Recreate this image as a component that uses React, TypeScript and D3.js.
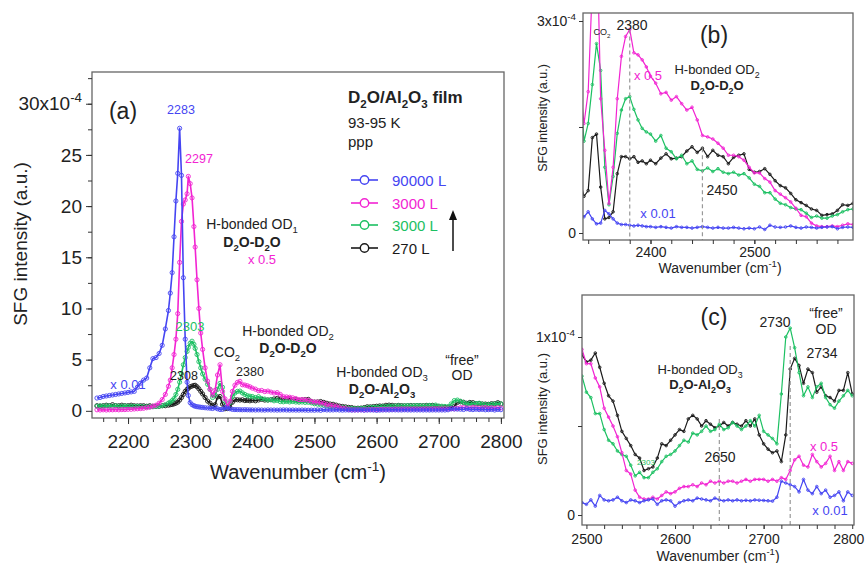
import * as d3 from 'd3';
import React, { useRef, useEffect } from 'react';

const FONT = 'Arial, "Liberation Sans", Helvetica, sans-serif';

// wavenumber grid (cm-1), finer around the OD1 peaks
const wavenumber = [
  2150, 2155, 2160, 2165, 2170, 2175, 2180, 2185, 2190, 2195, 2200, 2205, 2210, 2215, 2220, 2225, 2230, 2235, 2240, 2245, 2250, 2255, 2260, 2265,
  2268, 2271, 2274, 2277, 2280, 2283, 2286, 2289, 2292, 2295, 2297, 2300, 2303, 2306, 2308, 2311, 2314, 2317, 2320, 2324, 2328, 2332,
  2336, 2340, 2344, 2348, 2352, 2356, 2360, 2364, 2368, 2372, 2376, 2380, 2384, 2388, 2392, 2396, 2400,
  2405, 2410, 2415, 2420, 2425, 2430, 2435, 2440, 2445, 2450, 2455, 2460, 2465, 2470, 2475, 2480, 2485, 2490, 2495, 2500,
  2505, 2510, 2515, 2520, 2525, 2530, 2535, 2540, 2545, 2550, 2555, 2560, 2565, 2570, 2575, 2580, 2585, 2590, 2595, 2600,
  2605, 2610, 2615, 2620, 2625, 2630, 2635, 2640, 2645, 2650, 2655, 2660, 2665, 2670, 2675, 2680, 2685, 2690, 2695, 2700,
  2705, 2710, 2715, 2720, 2725, 2730, 2735, 2740, 2745, 2750, 2755, 2760, 2765, 2770, 2775, 2780, 2785, 2790, 2795, 2800,
];

// SFG intensity, units of 1e-4
// 90000 L (x 0.01)
const sfg90000 = [
  1.25, 1.3, 1.4, 1.45, 1.5, 1.55, 1.6, 1.65, 1.7, 1.75, 1.8, 1.85, 1.9, 2.3, 2.7, 3.0, 3.2, 4.2, 5.1, 5.2, 5.6, 6.4, 8.0, 9.8,
  11.5, 13.5, 17.0, 20.5, 23.2, 27.6, 23.0, 13.0, 7.0, 2.8, 1.5, 0.8, 0.6, 0.5, 0.45, 0.4, 0.38, 0.35, 0.33, 0.3, 0.28, 0.26,
  0.23, 0.3, 0.2, 0.13, 0.14, 0.32, 0.27, 0.2, 0.14, 0.12, 0.12, 0.11, 0.1, 0.11, 0.1, 0.09, 0.09,
  0.08, 0.09, 0.08, 0.07, 0.09, 0.08, 0.08, 0.07, 0.08, 0.09, 0.08, 0.07, 0.08, 0.07, 0.07, 0.08, 0.07, 0.06, 0.07, 0.06,
  0.085, 0.05, 0.11, 0.085, 0.08, 0.085, 0.1, 0.08, 0.07, 0.085, 0.08, 0.07, 0.08, 0.085, 0.09, 0.06, 0.08, 0.085, 0.08, 0.05,
  0.07, 0.08, 0.085, 0.08, 0.095, 0.09, 0.085, 0.08, 0.095, 0.085, 0.08, 0.085, 0.08, 0.085, 0.08, 0.083, 0.08, 0.085, 0.083, 0.082,
  0.08, 0.078, 0.1, 0.19, 0.18, 0.17, 0.16, 0.13, 0.2, 0.14, 0.12, 0.16, 0.12, 0.14, 0.1, 0.11, 0.13, 0.08, 0.13, 0.11,
];

// 3000 L (x 0.5)
const sfg3000a = [
  0.1, 0.08, 0.1, 0.08, 0.1, 0.1, 0.12, 0.1, 0.12, 0.12, 0.15, 0.15, 0.18, 0.2, 0.22, 0.25, 0.3, 0.35, 0.45, 0.55, 0.75, 1.1, 1.6, 2.4,
  3.0, 4.2, 5.5, 7.0, 9.5, 14.5, 18.5, 20.2, 20.6, 21.2, 22.9, 22.2, 20.8, 18.0, 16.0, 12.8, 10.0, 7.6, 6.0, 4.2, 2.9, 2.1,
  1.55, 2.0, 3.5, 4.5, 1.9, 1.17, 0.42, 0.93, 1.9, 2.5, 2.78, 2.88, 2.55, 2.52, 2.45, 2.35, 2.22,
  2.12, 1.97, 1.99, 1.88, 1.93, 1.83, 1.74, 1.78, 1.6, 1.38, 1.36, 1.33, 1.27, 1.2, 1.1, 1.1, 1.08, 1.03, 0.93, 0.85,
  0.85, 0.77, 0.72, 0.6, 0.55, 0.5, 0.44, 0.35, 0.25, 0.23, 0.14, 0.1, 0.09, 0.09, 0.1, 0.09, 0.11, 0.13, 0.12, 0.13,
  0.15, 0.16, 0.16, 0.17, 0.16, 0.18, 0.17, 0.19, 0.18, 0.19, 0.18, 0.19, 0.19, 0.18, 0.19, 0.2, 0.19, 0.2, 0.2, 0.2,
  0.19, 0.2, 0.19, 0.21, 0.2, 0.25, 0.31, 0.33, 0.28, 0.27, 0.34, 0.3, 0.27, 0.29, 0.33, 0.25, 0.3, 0.25, 0.3, 0.29,
];

// 3000 L
const sfg3000b = [
  0.45, 0.5, 0.45, 0.5, 0.48, 0.45, 0.5, 0.45, 0.45, 0.48, 0.45, 0.45, 0.43, 0.45, 0.42, 0.4, 0.4, 0.4, 0.4, 0.42, 0.45, 0.5, 0.6, 0.75,
  0.85, 1.0, 1.2, 1.6, 2.1, 2.8, 3.6, 4.5, 5.2, 5.8, 6.2, 6.6, 6.8, 6.5, 6.1, 5.5, 4.8, 4.2, 3.6, 3.1, 2.6, 2.1,
  1.3, 1.55, 2.1, 2.68, 2.3, 0.93, 0.4, 0.8, 1.41, 1.74, 1.9, 1.93, 1.75, 1.6, 1.48, 1.43, 1.4,
  1.3, 1.38, 1.2, 1.15, 1.05, 1.1, 0.98, 1.02, 0.9, 0.88, 0.92, 0.87, 0.91, 0.86, 0.84, 0.86, 0.82, 0.84, 0.78, 0.69,
  0.66, 0.57, 0.57, 0.48, 0.42, 0.4, 0.36, 0.34, 0.33, 0.28, 0.22, 0.24, 0.21, 0.21, 0.24, 0.26, 0.3, 0.33, 0.34, 0.36,
  0.39, 0.42, 0.41, 0.46, 0.45, 0.47, 0.5, 0.47, 0.48, 0.51, 0.48, 0.49, 0.52, 0.5, 0.48, 0.5, 0.53, 0.5, 0.56, 0.47,
  0.45, 0.43, 0.4, 0.68, 1.0, 1.05, 0.94, 0.8, 0.67, 0.72, 0.66, 0.72, 0.74, 0.66, 0.62, 0.6, 0.64, 0.67, 0.7, 0.67,
];

// 270 L
const sfg270 = [
  0.5, 0.45, 0.5, 0.55, 0.5, 0.6, 0.5, 0.5, 0.55, 0.5, 0.5, 0.55, 0.5, 0.48, 0.5, 0.5, 0.45, 0.5, 0.45, 0.45, 0.45, 0.5, 0.5, 0.55,
  0.6, 0.62, 0.68, 0.75, 0.85, 1.05, 1.3, 1.6, 1.9, 2.1, 2.2, 2.35, 2.42, 2.48, 2.5, 2.35, 2.15, 1.9, 1.65, 1.3, 0.95, 0.75,
  0.52, 0.6, 1.35, 1.4, 0.65, 0.2, 0.22, 0.3, 0.84, 1.08, 1.08, 1.05, 1.08, 1.0, 1.02, 0.98, 1.03,
  0.98, 1.06, 1.12, 1.05, 1.06, 1.08, 1.16, 1.22, 1.14, 1.2, 1.08, 1.17, 1.1, 1.08, 0.98, 1.07, 1.1, 1.12, 0.9, 0.86,
  0.87, 0.91, 0.83, 0.74, 0.67, 0.64, 0.56, 0.47, 0.43, 0.39, 0.34, 0.32, 0.25, 0.26, 0.27, 0.32, 0.4, 0.39, 0.42, 0.45,
  0.48, 0.47, 0.54, 0.56, 0.54, 0.5, 0.53, 0.51, 0.49, 0.5, 0.52, 0.5, 0.52, 0.51, 0.5, 0.53, 0.5, 0.54, 0.45, 0.4,
  0.37, 0.35, 0.36, 0.3, 0.45, 0.82, 0.88, 0.84, 0.74, 0.82, 0.8, 0.69, 0.72, 0.67, 0.66, 0.64, 0.7, 0.7, 0.8, 0.68,
];

const legendLabels = ['90000 L', '3000 L', '3000 L', '270 L'];
const legendColors = ['#4545f2', '#f224d2', '#1cc062', '#1a1a1a'];
const seriesValues = [sfg90000, sfg3000a, sfg3000b, sfg270];

// subscript helpers
const D2O = [['D'], ['2', 'sub'], ['O']];

function rich(g, x, y, parts, fs, o: any = {}) {
  const t = g.append('text')
    .attr('x', x).attr('y', y)
    .attr('font-size', fs)
    .attr('font-family', FONT)
    .attr('text-anchor', o.anchor || 'middle')
    .attr('font-weight', o.bold ? 'bold' : 'normal')
    .attr('fill', o.color || '#222');
  if (o.rotate) t.attr('transform', `rotate(-90 ${x} ${y})`);
  let shift = 0;
  parts.forEach(([s, k]) => {
    const target = k === 'sub' ? fs * 0.3 : k === 'sup' ? -fs * 0.4 : 0;
    t.append('tspan')
      .attr('dy', target - shift)
      .attr('font-size', k ? fs * 0.68 : fs)
      .text(s);
    shift = target;
  });
  return t;
}

function drawPanel(svg, p) {
  const x = d3.scaleLinear().domain(p.xDomain).range([p.left, p.right]);
  const y = d3.scaleLinear().domain(p.yDomain).range([p.bottom, p.top]);

  svg.append('clipPath').attr('id', 'clip-' + p.id)
    .append('rect')
    .attr('x', p.left).attr('y', p.top)
    .attr('width', p.right - p.left).attr('height', p.bottom - p.top);

  const plot = svg.append('g').attr('clip-path', `url(#clip-${p.id})`);

  // draw black first, blue on top
  [3, 2, 1, 0].forEach(k => {
    const pts = wavenumber.map((w, i) => [w, seriesValues[k][i]]);
    const line = d3.line().x(d => x(d[0])).y(d => y(d[1]));
    plot.append('path')
      .attr('d', line(pts))
      .attr('fill', 'none')
      .attr('stroke', legendColors[k])
      .attr('stroke-width', p.lw)
      .attr('stroke-linejoin', 'round');
    plot.append('g').selectAll('circle')
      .data(pts.filter(d => d[0] >= p.xDomain[0] - 5 && d[0] <= p.xDomain[1] + 5))
      .enter().append('circle')
      .attr('cx', d => x(d[0]))
      .attr('cy', d => y(d[1]))
      .attr('r', p.mr)
      .attr('fill', 'none')
      .attr('stroke', legendColors[k])
      .attr('stroke-width', 0.9);
  });

  // dashed guide lines
  (p.guides || []).forEach(gd => {
    svg.append('line')
      .attr('x1', x(gd[0])).attr('x2', x(gd[0]))
      .attr('y1', y(gd[1])).attr('y2', p.bottom)
      .attr('stroke', '#999').attr('stroke-width', 1.2)
      .attr('stroke-dasharray', '4,3');
  });

  // frame
  svg.append('rect')
    .attr('x', p.left).attr('y', p.top)
    .attr('width', p.right - p.left).attr('height', p.bottom - p.top)
    .attr('fill', 'none').attr('stroke', '#666').attr('stroke-width', 1.3);

  const styleAxis = g => {
    g.select('.domain').remove();
    g.attr('font-family', FONT).attr('font-size', p.tickFs);
    g.selectAll('line').attr('stroke', '#333');
    g.selectAll('text').attr('fill', '#222');
  };

  svg.append('g').attr('transform', `translate(0,${p.bottom})`)
    .call(d3.axisBottom(x).tickValues(p.xMinor).tickSize(p.tickMin).tickFormat(() => ''))
    .call(styleAxis);
  const xa = svg.append('g').attr('transform', `translate(0,${p.bottom})`)
    .call(d3.axisBottom(x).tickValues(p.xMajor).tickSize(p.tickMaj).tickPadding(p.xPad).tickFormat(d3.format('d')))
    .call(styleAxis);
  if (p.lastDx) {
    xa.selectAll('.tick text')
      .filter(d => d === p.xMajor[p.xMajor.length - 1])
      .attr('dx', p.lastDx);
  }
  svg.append('g').attr('transform', `translate(${p.left},0)`)
    .call(d3.axisLeft(y).tickValues(p.yMinor).tickSize(p.tickMin).tickFormat(() => ''))
    .call(styleAxis);
  const ya = svg.append('g').attr('transform', `translate(${p.left},0)`)
    .call(d3.axisLeft(y).tickValues(p.yMajor).tickSize(p.tickMaj).tickPadding(p.yPad).tickFormat(d3.format('~g')))
    .call(styleAxis);
  ya.selectAll('.tick text')
    .filter(d => d === p.yTop)
    .text(p.yTop + 'x10')
    .append('tspan')
    .attr('dy', -p.tickFs * 0.45)
    .attr('font-size', p.tickFs * 0.7)
    .text('-4');

  rich(svg, (p.left + p.right) / 2 + p.xTitleDx, p.xTitleY,
    [['Wavenumber (cm'], ['-1', 'sup'], [')']], p.titleFs);
  rich(svg, p.yTitleX, p.yTitleY, [['SFG intensity (a.u.)']], p.yTitleFs, { rotate: true });

  return { x, y };
}

function Chart() {
  const ref = useRef(null);

  useEffect(() => {
    const svg = d3.select(ref.current);
    svg.selectAll('*').remove();

    // ---- panel (a)
    drawPanel(svg, {
      id: 'a', left: 92, right: 504, top: 72, bottom: 418,
      xDomain: [2142, 2805], yDomain: [-0.7, 33.1],
      xMajor: [2200, 2300, 2400, 2500, 2600, 2700, 2800],
      xMinor: d3.range(2160, 2801, 20),
      yMajor: [0, 5, 10, 15, 20, 25, 30], yMinor: d3.range(2.5, 33, 2.5),
      yTop: 30, tickMaj: 6, tickMin: 4, xPad: 11, yPad: 4, tickFs: 19,
      lw: 1.6, mr: 2.1,
      titleFs: 20, xTitleDx: -0, xTitleY: 479, yTitleX: 27, yTitleY: 244, yTitleFs: 19,
    });

    const A = svg.append('g');
    rich(A, 123, 119, [['(a)']], 23);
    rich(A, 181, 114, [['2283']], 12.5, { color: legendColors[0] });
    rich(A, 199, 163, [['2297']], 12.5, { color: legendColors[1] });
    rich(A, 252, 229, [['H-bonded OD'], ['1', 'sub']], 14);
    rich(A, 252, 247, D2O.concat([['-D'], ['2', 'sub'], ['O']]), 14, { bold: true });
    rich(A, 262, 264, [['x 0.5']], 13, { color: legendColors[1] });
    rich(A, 190, 331, [['2303']], 13, { color: legendColors[2] });
    rich(A, 227, 357, [['CO'], ['2', 'sub']], 14);
    rich(A, 184, 380, [['2308']], 12.5);
    rich(A, 250, 376, [['2380']], 12.5);
    rich(A, 128, 389, [['x 0.01']], 13, { color: legendColors[0] });
    rich(A, 288, 336, [['H-bonded OD'], ['2', 'sub']], 14);
    rich(A, 288, 353, D2O.concat([['-D'], ['2', 'sub'], ['O']]), 14, { bold: true });
    rich(A, 382, 377, [['H-bonded OD'], ['3', 'sub']], 14);
    rich(A, 382, 394, D2O.concat([['-Al'], ['2', 'sub'], ['O'], ['3', 'sub']]), 14, { bold: true });
    rich(A, 462, 365, [['\u201cfree\u201d']], 14);
    rich(A, 462, 380, [['OD']], 14);

    // sample info + legend
    rich(A, 348, 103, D2O.concat([['/Al'], ['2', 'sub'], ['O'], ['3', 'sub'], [' film']]), 17, { bold: true, anchor: 'start' });
    rich(A, 348, 128, [['93-95 K']], 15, { anchor: 'start' });
    rich(A, 348, 147, [['ppp']], 15, { anchor: 'start' });
    const legY = [180, 203, 225, 248];
    legendLabels.forEach((lab, i) => {
      A.append('line').attr('x1', 351).attr('x2', 378).attr('y1', legY[i]).attr('y2', legY[i])
        .attr('stroke', legendColors[i]).attr('stroke-width', 1.6);
      A.append('circle').attr('cx', 364.5).attr('cy', legY[i]).attr('r', 4.2)
        .attr('fill', 'white').attr('stroke', legendColors[i]).attr('stroke-width', 1.4);
      rich(A, 392, legY[i] + 5.5, [[lab]], 15, { anchor: 'start', color: legendColors[i] });
    });
    A.append('line').attr('x1', 453).attr('x2', 453).attr('y1', 251).attr('y2', 218)
      .attr('stroke', '#111').attr('stroke-width', 1.5);
    A.append('path').attr('d', 'M449,220 L453,210 L457,220 Z').attr('fill', '#111');

    // ---- panel (b)
    drawPanel(svg, {
      id: 'b', left: 583, right: 853, top: 13, bottom: 240,
      xDomain: [2335, 2595], yDomain: [-0.099, 3.113],
      xMajor: [2400, 2500], xMinor: d3.range(2340, 2595, 20),
      yMajor: [0, 3], yMinor: [1.5],
      yTop: 3, tickMaj: 4, tickMin: 4, xPad: 3, yPad: 3, tickFs: 14,
      lw: 1.2, mr: 1.3,
      guides: [[2380, 2.88], [2450, 1.2]],
      titleFs: 14, xTitleDx: 2, xTitleY: 273, yTitleX: 547, yTitleY: 118, yTitleFs: 12.5,
    });
    const B = svg.append('g');
    rich(B, 714, 43, [['(b)']], 23);
    rich(B, 632, 30, [['2380']], 14);
    rich(B, 602, 35, [['CO'], ['2', 'sub']], 9);
    rich(B, 717, 74, [['H-bonded OD'], ['2', 'sub']], 13);
    rich(B, 717, 90, D2O.concat([['-D'], ['2', 'sub'], ['O']]), 13, { bold: true });
    rich(B, 648, 80, [['x 0.5']], 13, { color: legendColors[1] });
    rich(B, 722, 195, [['2450']], 14);
    rich(B, 658, 218, [['x 0.01']], 13, { color: legendColors[0] });

    // ---- panel (c)
    drawPanel(svg, {
      id: 'c', left: 582, right: 854, top: 295, bottom: 525,
      xDomain: [2495, 2802], yDomain: [-0.056, 1.236],
      xMajor: [2500, 2600, 2700, 2800], xMinor: d3.range(2520, 2800, 20),
      yMajor: [0, 1], yMinor: [0.5],
      yTop: 1, tickMaj: 4, tickMin: 4, xPad: 5, yPad: 3, tickFs: 14, lastDx: -4,
      lw: 1.2, mr: 1.3,
      guides: [[2650, 0.54], [2730, 0.95]],
      titleFs: 14, xTitleDx: 0, xTitleY: 561, yTitleX: 547, yTitleY: 409, yTitleFs: 13,
    });
    const C = svg.append('g');
    rich(C, 714, 325, [['(c)']], 23);
    rich(C, 775, 327, [['2730']], 14);
    rich(C, 826, 318, [['\u201cfree\u201d']], 14);
    rich(C, 826, 334, [['OD']], 14);
    rich(C, 822, 358, [['2734']], 14);
    rich(C, 700, 374, [['H-bonded OD'], ['3', 'sub']], 13);
    rich(C, 700, 389, D2O.concat([['-Al'], ['2', 'sub'], ['O'], ['3', 'sub']]), 13, { bold: true });
    rich(C, 720, 462, [['2650']], 14);
    rich(C, 824, 451, [['x 0.5']], 13, { color: legendColors[1] });
    rich(C, 830, 515, [['x 0.01']], 13, { color: legendColors[0] });
    rich(C, 646, 465, [['2303']], 8, { color: legendColors[2] });
  }, []);

  return (
    <svg ref={ref} width={866} height={563}
      style={{ position: 'absolute', left: 0, top: 0, background: 'white' }} />
  );
}

export default function App() {
  return <Chart />;
}
